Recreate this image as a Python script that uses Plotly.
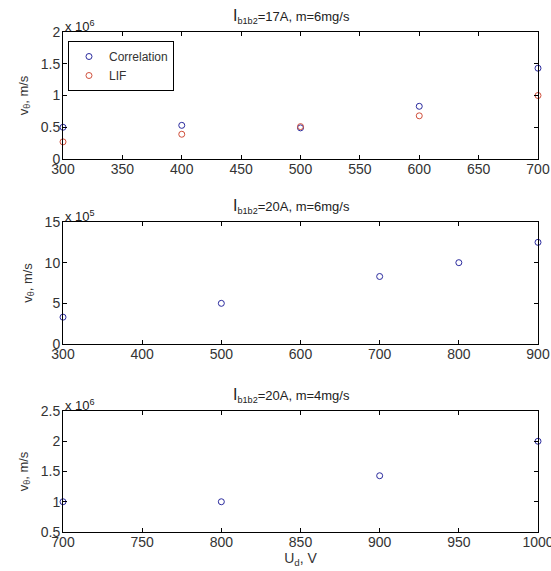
import plotly.graph_objects as go

# Panel 1: I_b1b2=17A, m=6mg/s  (values in units of 1e6 m/s)
ud_p1 = [300, 400, 500, 600, 700]
corr_p1 = [0.50, 0.53, 0.49, 0.83, 1.43]
lif_p1 = [0.27, 0.39, 0.51, 0.68, 1.00]

# Panel 2: I_b1b2=20A, m=6mg/s (values in units of 1e5 m/s)
ud_p2 = [300, 500, 700, 800, 900]
corr_p2 = [3.3, 5.0, 8.3, 10.0, 12.5]

# Panel 3: I_b1b2=20A, m=4mg/s (values in units of 1e6 m/s)
ud_p3 = [700, 800, 900, 1000]
corr_p3 = [1.0, 1.0, 1.43, 2.0]

titles = ["<span style='font-size:16px'>I</span><sub>b1b2</sub>=17A, m=6mg/s",
          "<span style='font-size:16px'>I</span><sub>b1b2</sub>=20A, m=6mg/s",
          "<span style='font-size:16px'>I</span><sub>b1b2</sub>=20A, m=4mg/s"]
exponents = ["x 10<sup>6</sup>", "x 10<sup>5</sup>", "x 10<sup>6</sup>"]

FONT = "Liberation Sans, Arial, sans-serif"
BLUE = "#2b2b9e"
RED = "#d0503c"

fig = go.Figure()

mk = lambda c: dict(symbol="circle-open", size=6, color=c, line=dict(width=1, color=c))

fig.add_trace(go.Scatter(x=ud_p1, y=corr_p1, mode="markers", name="Correlation",
                         marker=mk(BLUE), cliponaxis=False, xaxis="x", yaxis="y"))
fig.add_trace(go.Scatter(x=ud_p1, y=lif_p1, mode="markers", name="LIF",
                         marker=mk(RED), cliponaxis=False, xaxis="x", yaxis="y"))
fig.add_trace(go.Scatter(x=ud_p2, y=corr_p2, mode="markers", showlegend=False,
                         marker=mk(BLUE), cliponaxis=False, xaxis="x2", yaxis="y2"))
fig.add_trace(go.Scatter(x=ud_p3, y=corr_p3, mode="markers", showlegend=False,
                         marker=mk(BLUE), cliponaxis=False, xaxis="x3", yaxis="y3"))

ax_common = dict(showline=True, linecolor="black", linewidth=1, mirror="ticks",
                 ticks="inside", ticklen=4, tickcolor="black", showgrid=False,
                 zeroline=False, automargin=False, ticklabeloverflow="allow",
                 tickfont=dict(family=FONT, size=14, color="#333"))

domains = [(0.746, 1.0), (0.376, 0.62), (0.0, 0.242)]
xranges = [(300, 700), (300, 900), (700, 1000)]
xdt = [50, 100, 50]
yranges = [(0, 2), (0, 15), (0.5, 2.5)]
ydt = [0.5, 5, 0.5]

layout = dict(
    width=551, height=571,
    margin=dict(l=63, r=13, t=32, b=39),
    paper_bgcolor="white", plot_bgcolor="white",
    font=dict(family=FONT, size=13, color="#222"),
    legend=dict(x=0.0105, y=0.982, xanchor="left", yanchor="top",
                bordercolor="black", borderwidth=1, bgcolor="white",
                font=dict(family=FONT, size=12, color="#333"), tracegroupgap=0,
                itemwidth=30),
)

annotations = []
for i in range(3):
    sx = "" if i == 0 else str(i + 1)
    xa = dict(ax_common, domain=[0, 1], range=list(xranges[i]), dtick=xdt[i],
              tick0=xranges[i][0], anchor="y" + sx, ticklabelstandoff=-3)
    ya = dict(ax_common, domain=list(domains[i]), range=list(yranges[i]), dtick=ydt[i],
              tick0=0, anchor="x" + sx, ticklabelstandoff=-1,
              title=dict(text="v<sub>θ</sub>, m/s", standoff=9,
                         font=dict(family=FONT, size=13, color="#333")))
    if i == 2:
        xa["title"] = dict(text="U<sub>d</sub>, V", standoff=0,
                           font=dict(family=FONT, size=14, color="#333"))
    layout["xaxis" + sx] = xa
    layout["yaxis" + sx] = ya
    annotations.append(dict(text=titles[i], x=0.482, y=domains[i][1], xref="paper",
                            yref="paper", xanchor="center", yanchor="bottom",
                            showarrow=False, yshift=4,
                            font=dict(family=FONT, size=13, color="#222")))
    annotations.append(dict(text=exponents[i], x=0, y=domains[i][1], xref="paper",
                            yref="paper", xanchor="left", yanchor="bottom",
                            showarrow=False, yshift=-4,
                            font=dict(family=FONT, size=13, color="#222")))

layout["annotations"] = annotations
fig.update_layout(**layout)
fig.write_html("out.html", config={"displayModeBar": False},
               post_script="document.body.style.margin='0';document.body.style.overflow='hidden';")
